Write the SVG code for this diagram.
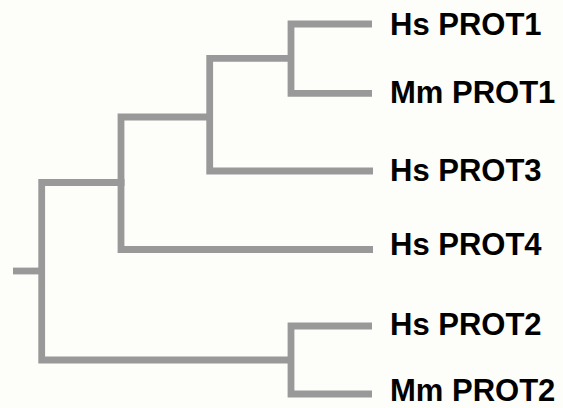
<svg xmlns="http://www.w3.org/2000/svg" width="563" height="408" viewBox="0 0 563 408">
  <style>
    .branch { fill: none; stroke: #999999; stroke-width: 6.8; stroke-linecap: butt; stroke-linejoin: miter; }
    .leaf { font-family: "Liberation Sans", Arial, sans-serif; font-weight: bold; font-size: 31px; fill: #000000; }
  </style>
  <rect x="0" y="0" width="563" height="408" fill="#fdfdfa"/>

  <!-- tree branches -->
  <g id="connectors">
    <!-- root -->
    <path class="branch" d="M13,271 H41.7"/>
    <path class="branch" d="M124.5,182.5 H41.7 V360 H291"/>
    <!-- clade: PROT1/PROT3/PROT4 -->
    <path class="branch" d="M210,117 H121 V249.5 H373"/>
    <!-- clade: PROT1/PROT3 -->
    <path class="branch" d="M291,58.3 H209.7 V171 H373"/>
    <!-- clade: PROT1 pair -->
    <path class="branch" d="M372,24 H291 V93.3 H372"/>
    <!-- clade: PROT2 pair -->
    <path class="branch" d="M372,326 H291 V394 H372"/>
  </g>

  <!-- leaf labels -->
  <g id="leaf-hs-prot1"><text class="leaf" x="390" y="35">Hs PROT1</text></g>
  <g id="leaf-mm-prot1"><text class="leaf" x="390" y="103">Mm PROT1</text></g>
  <g id="leaf-hs-prot3"><text class="leaf" x="390" y="181">Hs PROT3</text></g>
  <g id="leaf-hs-prot4"><text class="leaf" x="390" y="255">Hs PROT4</text></g>
  <g id="leaf-hs-prot2"><text class="leaf" x="390" y="335">Hs PROT2</text></g>
  <g id="leaf-mm-prot2"><text class="leaf" x="390" y="401">Mm PROT2</text></g>
</svg>
